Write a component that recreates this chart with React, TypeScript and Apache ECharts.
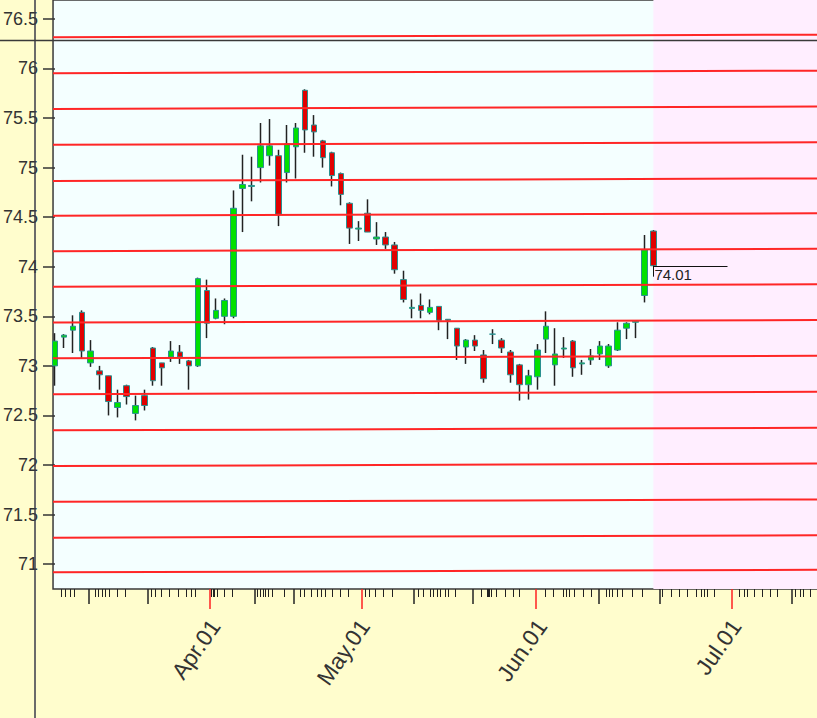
import React, { useEffect, useRef } from "react";
import * as echarts from "echarts";

// ---- data ----
const opens = [73.0, 73.29, 73.36, 73.54, 73.03, 72.95, 72.9, 72.58, 72.8, 72.52, 72.7, 73.18, 73.03, 73.09, 73.14, 73.05, 73.0, 73.76, 73.48, 73.5, 73.5, 74.79, 74.81, 75.0, 75.12, 75.12, 74.95, 75.21, 75.78, 75.43, 75.27, 75.15, 74.94, 74.64, 74.38, 74.54, 74.28, 74.3, 74.22, 73.87, 73.58, 73.61, 73.54, 73.6, 73.47, 73.38, 73.19, 73.26, 73.11, 73.32, 73.26, 73.14, 73.01, 72.81, 72.89, 73.27, 73.01, 73.17, 73.25, 73.02, 73.06, 73.12, 73.0, 73.16, 73.38, 73.44, 73.71, 74.36];
const closes = [73.25, 73.31, 73.4, 73.15, 73.15, 72.91, 72.64, 72.63, 72.69, 72.6, 72.6, 72.85, 72.98, 73.15, 73.09, 73.0, 73.88, 73.43, 73.56, 73.66, 74.59, 74.83, 74.82, 75.22, 75.22, 74.53, 75.24, 75.4, 75.38, 75.36, 75.1, 74.92, 74.73, 74.39, 74.39, 74.35, 74.3, 74.22, 73.97, 73.67, 73.59, 73.56, 73.59, 73.46, 73.46, 73.2, 73.26, 73.2, 72.87, 73.32, 73.18, 72.91, 72.81, 72.9, 73.16, 73.4, 73.12, 73.18, 72.98, 73.03, 73.1, 73.2, 73.2, 73.36, 73.43, 73.45, 74.17, 74.01];
const lows = [72.8, 73.18, 73.13, 73.08, 72.99, 72.76, 72.5, 72.48, 72.61, 72.45, 72.55, 72.8, 72.8, 73.04, 73.02, 72.76, 72.99, 73.28, 73.47, 73.42, 73.48, 74.35, 74.66, 74.85, 75.02, 74.41, 74.85, 74.89, 75.15, 75.11, 75.0, 74.81, 74.62, 74.23, 74.26, 74.35, 74.22, 74.18, 73.93, 73.64, 73.48, 73.48, 73.52, 73.36, 73.27, 73.06, 73.02, 73.15, 72.83, 73.22, 73.13, 72.83, 72.65, 72.66, 72.76, 73.13, 72.8, 73.08, 72.89, 72.91, 73.01, 73.06, 72.98, 73.15, 73.27, 73.28, 73.64, 74.01];
const highs = [73.33, 73.32, 73.51, 73.56, 73.26, 73.0, 72.9, 72.76, 72.81, 72.7, 72.76, 73.19, 73.03, 73.25, 73.21, 73.06, 73.89, 73.87, 73.68, 73.68, 74.77, 75.13, 75.11, 75.45, 75.49, 75.18, 75.43, 75.45, 75.79, 75.53, 75.28, 75.16, 74.95, 74.65, 74.46, 74.68, 74.45, 74.35, 74.25, 73.96, 73.67, 73.73, 73.67, 73.6, 73.47, 73.38, 73.27, 73.31, 73.16, 73.37, 73.28, 73.16, 73.02, 72.96, 73.22, 73.55, 73.38, 73.29, 73.26, 73.06, 73.17, 73.25, 73.22, 73.44, 73.44, 73.45, 74.32, 74.37];

// parallel red channel lines: value at left edge and at right edge
const channelLeft = [76.316, 75.953, 75.592, 75.23, 74.866, 74.515, 74.157, 73.798, 73.437, 73.076, 72.714, 72.35, 71.989, 71.628, 71.266, 70.917];
const channelRight = [76.341, 75.978, 75.617, 75.255, 74.891, 74.54, 74.182, 73.823, 73.462, 73.101, 72.739, 72.375, 72.014, 71.653, 71.291, 70.942];

// axis ticks and labels (x in candle-slot units)
const yTickValues = [71, 71.5, 72, 72.5, 73, 73.5, 74, 74.5, 75, 75.5, 76, 76.5];
const monthLabels = ["Apr.01", "May.01", "Jun.01", "Jul.01"];
const monthTicks = [17.36, 34.39, 53.83, 75.72];
const monthLabelPos = [17.92, 34.65, 54.5, 76.25];
const weekTicks = [3.79, 10.42, 22.38, 26.77, 40.15, 46.77, 60.89, 67.66, 82.53];
const dayTicks = [0.75, 1.19, 1.75, 2.16, 4.46, 4.84, 5.29, 5.65, 6.02, 6.96, 7.88, 10.78, 11.23, 11.9, 12.82, 13.76, 14.69, 15.24, 15.69, 17.53, 17.7, 17.87, 18.22, 18.96, 19.9, 22.68, 22.97, 23.27, 23.58, 23.87, 24.36, 25.65, 27.51, 27.96, 28.71, 29.37, 29.82, 30.3, 31.05, 31.97, 32.83, 34.76, 35.24, 35.88, 36.8, 37.74, 40.71, 41.26, 42.01, 42.38, 42.76, 43.13, 43.68, 44.05, 44.8, 47.78, 48.37, 48.51, 48.65, 48.89, 49.45, 50.37, 51.3, 51.97, 54.84, 55.76, 56.88, 57.25, 57.62, 58.18, 59.11, 60.04, 61.72, 62.08, 62.45, 62.9, 63.57, 64.68, 65.8, 68.03, 68.96, 69.89, 70.82, 71.75, 72.31, 72.68, 73.05, 73.79, 76.58, 77.14, 77.51, 78.25, 79.18, 80.12, 80.85, 82.9, 83.46, 83.83, 84.58];

// ---- layout ----
const X_MIN = -0.22;
const X_MAX = 85.32;
const Y_MIN = 70.749;
const Y_MAX = 76.691;
const LAST_LINE_LEN = 8.3;
const FONT = "'Liberation Sans', Arial, sans-serif";

export default function App() {
  const ref = useRef<HTMLDivElement>(null);

  useEffect(() => {
    if (!ref.current) return;
    const chart = echarts.init(ref.current, undefined, { renderer: "svg" });
    const n = opens.length;
    const lastIdx = n - 1;
    const lastClose = closes[lastIdx];

    const wickData = opens.map((o, i) => {
      const m = (o + closes[i]) / 2;
      return [i, m, m, lows[i], highs[i]];
    });
    const bodyData = opens.map((o, i) => [i, o, closes[i], Math.min(o, closes[i]), Math.max(o, closes[i])]);

    const baseX: any = {
      type: "value",
      min: X_MIN,
      max: X_MAX,
      position: "bottom",
      gridIndex: 0,
      splitLine: { show: false },
      axisLine: { show: false },
      axisLabel: { show: false },
      axisTick: { show: false },
    };

    const channelSeries = channelLeft.map((a, k) => {
      const s: any = {
        type: "line",
        xAxisIndex: 0,
        yAxisIndex: 0,
        data: [[X_MIN, a], [X_MAX, channelRight[k]]],
        symbol: "none",
        silent: true,
        lineStyle: { color: "#ff2626", width: 2 },
      };
      if (k === 0) {
        s.markArea = {
          silent: true,
          itemStyle: { color: "#ffeeff" },
          data: [[{ xAxis: lastIdx }, { xAxis: X_MAX }]],
        };
      }
      return s;
    });

    chart.setOption({
      animation: false,
      backgroundColor: "#fffdcd",
      grid: {
        left: 53,
        top: -3,
        right: -3,
        bottom: 129,
        show: true,
        backgroundColor: "#f4ffff",
        borderColor: "#3a3a3a",
        borderWidth: 1.5,
      },
      xAxis: [
        { ...baseX, axisTick: { show: true, customValues: dayTicks, length: 8, lineStyle: { color: "#222", width: 1 } } },
        { ...baseX, axisTick: { show: true, customValues: weekTicks, length: 15, lineStyle: { color: "#222", width: 1.5 } } },
        { ...baseX, axisTick: { show: true, customValues: monthTicks, length: 20, lineStyle: { color: "#ff2020", width: 1.5 } } },
        {
          ...baseX,
          axisLabel: {
            show: true,
            customValues: monthLabelPos,
            rotate: 55,
            margin: 33,
            fontSize: 23,
            fontFamily: FONT,
            color: "#333",
            formatter: (v: number) => {
              let best = 0;
              monthLabelPos.forEach((p, i) => {
                if (Math.abs(p - v) < Math.abs(monthLabelPos[best] - v)) best = i;
              });
              return monthLabels[best];
            },
          },
        },
      ],
      yAxis: {
        type: "value",
        min: Y_MIN,
        max: Y_MAX,
        position: "left",
        splitLine: { show: false },
        axisLine: { show: false },
        axisTick: { show: true, customValues: yTickValues, length: 12, lineStyle: { color: "#333", width: 1.5 } },
        axisLabel: {
          show: true,
          customValues: yTickValues,
          margin: 15,
          fontSize: 18,
          fontFamily: FONT,
          color: "#333",
          padding: [5, 0, 0, 0],
          formatter: (v: number) => String(v),
        },
      },
      series: [
        ...channelSeries,
        {
          type: "candlestick",
          xAxisIndex: 0,
          yAxisIndex: 0,
          data: wickData,
          encode: { x: 0, y: [1, 2, 3, 4] },
          barWidth: 1,
          silent: true,
          itemStyle: { color: "#222", color0: "#222", borderColor: "#222", borderColor0: "#222", borderWidth: 1.5 },
        },
        {
          type: "candlestick",
          xAxisIndex: 0,
          yAxisIndex: 0,
          data: bodyData,
          encode: { x: 0, y: [1, 2, 3, 4] },
          barWidth: 6,
          silent: true,
          itemStyle: { color: "#00e000", color0: "#e00000", borderColor: "#2a9090", borderColor0: "#2a9090", borderWidth: 1 },
          markLine: {
            silent: true,
            symbol: ["none", "none"],
            lineStyle: { color: "#111", width: 1, type: "solid" },
            label: { show: false },
            data: [
              [
                {
                  coord: [lastIdx, lastClose],
                  label: {
                    show: true,
                    position: "insideStartBottom",
                    distance: 1,
                    formatter: lastClose.toFixed(2),
                    fontSize: 15,
                    fontFamily: FONT,
                    color: "#222",
                  },
                },
                { coord: [lastIdx + LAST_LINE_LEN, lastClose] },
              ],
              [{ coord: [lastIdx, lastClose] }, { coord: [lastIdx, lastClose - 0.11] }],
            ],
          },
        },
      ],
      graphic: [
        { type: "line", silent: true, z: 100, shape: { x1: 35, y1: 0, x2: 35, y2: 718 }, style: { stroke: "#3a3a48", lineWidth: 1.5 } },
        { type: "line", silent: true, z: 100, shape: { x1: 0, y1: 40.5, x2: 817, y2: 40.5 }, style: { stroke: "#3a3a3a", lineWidth: 1.5 } },
      ],
    });

    return () => chart.dispose();
  }, []);

  return <div ref={ref} style={{ position: "absolute", left: 0, top: 0, width: 817, height: 718 }} />;
}
